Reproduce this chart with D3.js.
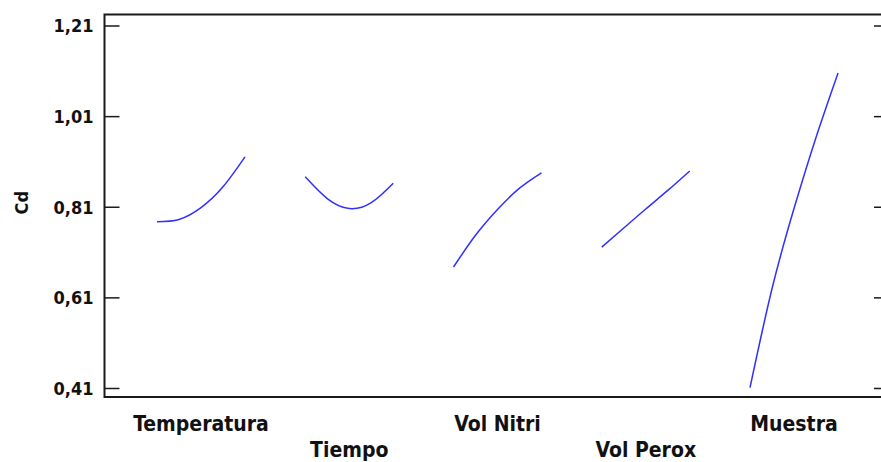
<!DOCTYPE html>
<html>
<head>
<meta charset="utf-8">
<script src="https://cdn.jsdelivr.net/npm/d3@7"></script>
<style>
  html, body { margin: 0; padding: 0; background: #fff; overflow: hidden; }
  svg { display: block; }
  .lbl { font-family: "DejaVu Sans Condensed", "DejaVu Sans", sans-serif; font-stretch: condensed; font-weight: bold; fill: #111; }
</style>
</head>
<body>
<svg id="chart" width="881" height="462"></svg>
<script>
// Main effects plot for Cd
const factors = ["Temperatura", "Tiempo", "Vol Nitri", "Vol Perox", "Muestra"];
const levels = [-1, -0.5, 0, 0.5, 1];
const temperatura = [0.777, 0.782, 0.808, 0.854, 0.920];
const tiempo      = [0.876, 0.828, 0.806, 0.819, 0.862];
const volNitri    = [0.677, 0.747, 0.804, 0.851, 0.885];
const volPerox    = [0.721, 0.763, 0.805, 0.846, 0.889];
const muestra     = [0.411, 0.629, 0.806, 0.963, 1.105];
const yTicks = [0.41, 0.61, 0.81, 1.01, 1.21];
const yTitle = "Cd";

const series = [temperatura, tiempo, volNitri, volPerox, muestra];

const svg = d3.select("#chart");
const frame = { left: 104.5, right: 889, top: 14.5, bottom: 397 };

const y = d3.scaleLinear().domain([0.41, 1.21]).range([388, 25.5]);
const xf = d3.scalePoint().domain(factors).range([201, 794]);
const xl = d3.scaleLinear().domain([-1, 1]).range([-44, 44]);

// frame
svg.append("rect")
  .attr("x", frame.left).attr("y", frame.top)
  .attr("width", frame.right - frame.left).attr("height", frame.bottom - frame.top)
  .attr("fill", "none").attr("stroke", "#1a1a1a").attr("stroke-width", 2);

// left axis: inward ticks, labels outside
const leftAxis = d3.axisLeft(y)
  .tickValues(yTicks)
  .tickSize(-15)
  .tickPadding(11)
  .tickFormat(d => d3.format(".2f")(d).replace(".", ","));
const gl = svg.append("g").attr("transform", `translate(${frame.left},0)`).call(leftAxis);
gl.select(".domain").remove();
gl.selectAll(".tick line").attr("stroke", "#1a1a1a").attr("stroke-width", 1.5);
gl.selectAll(".tick text")
  .attr("class", "lbl").attr("font-size", 18).attr("dy", "0.36em")
  .attr("fill", "#111");

// right axis: inward ticks only
const rightAxis = d3.axisRight(y).tickValues(yTicks).tickSize(-15).tickFormat("");
const gr = svg.append("g").attr("transform", `translate(${frame.right},0)`).call(rightAxis);
gr.select(".domain").remove();
gr.selectAll(".tick line").attr("stroke", "#1a1a1a").attr("stroke-width", 1.5);

// y title
svg.append("text")
  .attr("class", "lbl")
  .attr("font-size", 18)
  .attr("text-anchor", "middle")
  .attr("transform", `translate(28,${y(0.81) - 4}) rotate(-90)`)
  .text(yTitle);

// factor labels, staggered on two rows
svg.selectAll("text.factor")
  .data(factors)
  .join("text")
  .attr("class", "lbl factor")
  .attr("font-size", 21)
  .attr("text-anchor", "middle")
  .attr("x", d => xf(d))
  .attr("y", (d, i) => i % 2 === 0 ? 431 : 457)
  .text(d => d);

// effect curves
const line = d3.line()
  .x(d => d[0])
  .y(d => y(d[1]))
  .curve(d3.curveNatural);

svg.selectAll("path.effect")
  .data(series.map((vals, i) => vals.map((v, j) => [xf(factors[i]) + xl(levels[j]), v])))
  .join("path")
  .attr("class", "effect")
  .attr("fill", "none")
  .attr("stroke", "#3030ff")
  .attr("stroke-width", 1.5)
  .attr("d", line);
</script>
</body>
</html>
